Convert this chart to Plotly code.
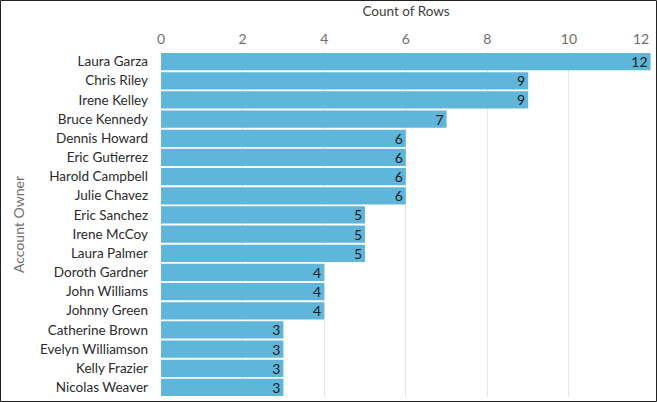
import plotly.graph_objects as go

owners = ["Laura Garza", "Chris Riley", "Irene Kelley", "Bruce Kennedy", "Dennis Howard",
          "Eric Gutierrez", "Harold Campbell", "Julie Chavez", "Eric Sanchez", "Irene McCoy",
          "Laura Palmer", "Doroth Gardner", "John Williams", "Johnny Green", "Catherine Brown",
          "Evelyn Williamson", "Kelly Frazier", "Nicolas Weaver"]
counts = [12, 9, 9, 7, 6, 6, 6, 6, 5, 5, 5, 4, 4, 4, 3, 3, 3, 3]
tick_vals = [0, 2, 4, 6, 8, 10, 12]
tick_text = ["0", "2", "4", "6", "8", "10", "12"]

W, H = 657, 402
L, R, T, B = 161, 6, 52, 5
pw, ph = W - L - R, H - T - B
FONT = "Lato"

fig = go.Figure(go.Bar(
    x=counts, y=owners, orientation="h",
    marker=dict(color="#5eb6da", line=dict(width=0)),
    text=[str(c) for c in counts], textposition="inside", insidetextanchor="end",
    constraintext="none",
    textfont=dict(color="#1b1b1b", size=14, family=FONT),
    textangle=0, cliponaxis=False,
))

# last tick label is drawn right-aligned so it stays inside the frame
shown_text = tick_text[:-1] + [""]

fig.update_layout(
    width=W, height=H,
    margin=dict(l=L, r=R, t=T, b=B),
    paper_bgcolor="white", plot_bgcolor="white",
    font=dict(family=FONT, size=13.5, color="#3e3e3c"),
    bargap=0.1, showlegend=False,
    xaxis=dict(side="top", range=[0, 12.01], tickvals=tick_vals, ticktext=shown_text,
               showgrid=True, automargin=False,
               gridcolor="#e3e6ec", zeroline=False, showline=False,
               tickfont=dict(color="#706e6b", size=14), ticks="", ticklabelstandoff=4,
               title=dict(text="Count of Rows", font=dict(size=13.5, color="#3e3e3c"), standoff=10)),
    yaxis=dict(autorange="reversed", showgrid=False, zeroline=False, showline=False,
               ticks="", ticklabelstandoff=12, automargin=False,
               tickfont=dict(size=13.5, color="#2b2b2b"),
               title=dict(text="Account Owner", font=dict(size=14, color="#706e6b"), standoff=12)),
    annotations=[dict(text=tick_text[-1], x=tick_vals[-1], xref="x", xanchor="right",
                      y=(H - B - 38) / ph, yref="paper", yanchor="middle", showarrow=False,
                      font=dict(color="#706e6b", size=14, family=FONT))],
    shapes=[dict(type="rect", xref="paper", yref="paper",
                 x0=(0.5 - L) / pw, x1=(W - 0.5 - L) / pw,
                 y0=(H - B - (H - 0.5)) / ph, y1=(H - B - 0.5) / ph,
                 line=dict(color="#222222", width=1), layer="above")],
)

fig.write_html("out.html")
